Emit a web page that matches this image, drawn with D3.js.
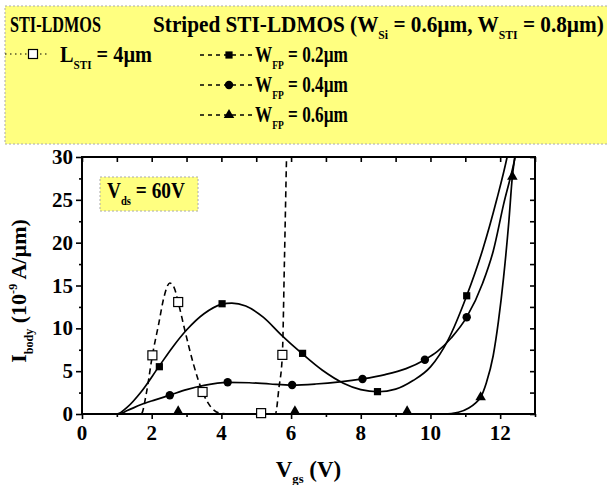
<!DOCTYPE html>
<html>
<head>
<meta charset="utf-8">
<script src="https://cdn.jsdelivr.net/npm/d3@7"></script>
<style>
  body { margin: 0; background: #fff; }
  text { font-family: "Liberation Serif", "Times New Roman", serif; font-weight: bold; white-space: pre; }
</style>
</head>
<body>
<svg id="chart" width="607" height="485"></svg>
<script>
// Axis ticks
const xTicks = [0, 2, 4, 6, 8, 10, 12];
const xMinorTicks = [1, 3, 5, 7, 9, 11, 13];
const yTicks = [0, 5, 10, 15, 20, 25, 30];
const yMinorTicks = [2.5, 7.5, 12.5, 17.5, 22.5, 27.5];

// STI-LDMOS, L_STI = 4um (dashed curve + open squares)
const lstiCurve = [[0, 0], [1.7, 0], [1.85, 2.5], [2.02, 6.85], [2.2, 10.5], [2.35, 13.6], [2.52, 15.3],
    [2.65, 14.7], [2.76, 13.07], [2.95, 9.8], [3.2, 5.8], [3.46, 2.57], [3.7, 0.8], [3.95, 0.1],
    [4.2, 0], [5.55, 0], [5.65, 3], [5.75, 6.9], [5.81, 18], [5.87, 30], [5.9, 35]];
const lstiPoints = [[2.02, 6.85], [2.76, 13.07], [3.46, 2.57], [5.14, 0.1], [5.75, 6.9]];

// Striped STI-LDMOS, W_FP = 0.2um
const fp02Curve = [[0, 0], [1.0, 0], [1.3, 0.8], [1.7, 2.6], [2.2, 5.5], [2.6, 7.8], [3.0, 9.8], [3.5, 11.7],
    [4.0, 12.8], [4.3, 12.95], [4.7, 12.6], [5.2, 11.3], [5.7, 9.3], [6.3, 7.1], [6.9, 5.1], [7.5, 3.6],
    [8.0, 2.85], [8.5, 2.6], [9.0, 2.9], [9.5, 3.9], [10.0, 5.5], [10.5, 8.6], [11.04, 13.8], [11.5, 19.2],
    [11.9, 25], [12.2, 30], [12.3, 32]];
const fp02Points = [[2.22, 5.52], [4.02, 12.87], [6.33, 7.08], [8.48, 2.61], [11.04, 13.8]];

// W_FP = 0.4um
const fp04Curve = [[0, 0], [1.05, 0], [1.3, 0.4], [1.7, 1.1], [2.1, 1.65], [2.52, 2.2], [3.0, 2.85], [3.5, 3.35],
    [4.18, 3.7], [4.8, 3.65], [5.4, 3.5], [6.03, 3.38], [6.7, 3.5], [7.4, 3.75], [8.05, 4.1], [8.7, 4.6],
    [9.3, 5.3], [9.84, 6.34], [10.2, 7.3], [10.6, 8.9], [11.04, 11.3], [11.5, 15.3], [11.8, 19], [12.1, 24.5],
    [12.43, 30], [12.5, 31.5]];
const fp04Points = [[2.52, 2.18], [4.18, 3.7], [6.03, 3.38], [8.05, 4.08], [9.84, 6.34], [11.04, 11.3]];

// W_FP = 0.6um
const fp06Curve = [[0, 0], [10.4, 0], [10.8, 0.2], [11.1, 0.7], [11.3, 1.3], [11.44, 1.95], [11.6, 3.6],
    [11.8, 6.8], [11.95, 10.8], [12.1, 16], [12.25, 22.5], [12.35, 27.7], [12.42, 30], [12.45, 31]];
const fp06Points = [[2.76, 0.3], [6.11, 0.3], [9.33, 0.3], [11.44, 1.95], [12.35, 27.7]];

const FONT = 24;
const plot = { left: 82, right: 535, top: 157, bottom: 414 };

const svg = d3.select('#chart');

// Write text made of plain / subscript / superscript parts
function richText(parent, parts, size) {
    const t = parent.append('text').attr('font-size', size);
    let shift = 0;
    parts.forEach(p => {
        const [str, kind] = typeof p === 'string' ? [p, null] : p;
        const target = kind === 'sub' ? size * 0.3 : kind === 'sup' ? -size * 0.42 : 0;
        t.append('tspan')
            .attr('dy', target - shift)
            .attr('font-size', kind ? size * 0.55 : size)
            .text(str);
        shift = target;
    });
    return t;
}

// Squeeze/stretch a text horizontally so it spans a given width
function fitText(t, x, y, width) {
    const w = t.node().getComputedTextLength();
    t.attr('transform', `translate(${x},${y}) scale(${width / w},1)`);
}

function drawMarker(g, kind, cx, cy) {
    if (kind === 'open') {
        g.append('rect').attr('x', cx - 4.5).attr('y', cy - 4.5).attr('width', 9).attr('height', 9)
            .attr('fill', '#fff').attr('stroke', '#000').attr('stroke-width', 1.2);
    } else if (kind === 'square') {
        g.append('rect').attr('x', cx - 3.6).attr('y', cy - 3.6).attr('width', 7.2).attr('height', 7.2)
            .attr('fill', '#000');
    } else if (kind === 'circle') {
        g.append('circle').attr('cx', cx).attr('cy', cy).attr('r', 4.2).attr('fill', '#000');
    } else {
        g.append('path').attr('d', d3.symbol(d3.symbolTriangle, 48)())
            .attr('transform', `translate(${cx},${cy})`).attr('fill', '#000');
    }
}

// ---- Legend ----
const legend = svg.append('g');
legend.append('rect')
    .attr('x', 5).attr('y', 6).attr('width', 640).attr('height', 138)
    .attr('fill', '#ffff80').attr('stroke', '#aaa').attr('stroke-dasharray', '2,2');

fitText(richText(legend, ['STI-LDMOS'], FONT), 10, 32, 91);
fitText(richText(legend, ['Striped STI-LDMOS (W', ['Si', 'sub'], ' = 0.6µm, W', ['STI', 'sub'], ' = 0.8µm)'], FONT), 153, 32, 451);

legend.append('line').attr('x1', 5).attr('x2', 48).attr('y1', 54).attr('y2', 54)
    .attr('stroke', '#000').attr('stroke-width', 1.2).attr('stroke-dasharray', '1.5,3.5');
drawMarker(legend, 'open', 33, 54);
fitText(richText(legend, ['L', ['STI', 'sub'], ' = 4µm'], FONT), 60, 61.5, 92);

const legendRows = [
    { kind: 'square', label: '0.2µm', y: 61.5 },
    { kind: 'circle', label: '0.4µm', y: 91.5 },
    { kind: 'triangle', label: '0.6µm', y: 121.5 }
];
legendRows.forEach(r => {
    const my = r.y - 6.5;
    legend.append('line').attr('x1', 200).attr('x2', 254).attr('y1', my).attr('y2', my)
        .attr('stroke', '#000').attr('stroke-width', 1.5).attr('stroke-dasharray', '4,4');
    drawMarker(legend, r.kind, 229, my);
    fitText(richText(legend, ['W', ['FP', 'sub'], ' = ' + r.label], FONT), 255, r.y, 93);
});

// ---- Scales ----
const x = d3.scaleLinear().domain([0, 13]).range([plot.left, plot.right]);
const y = d3.scaleLinear().domain([0, 30]).range([plot.bottom, plot.top]);
const pw = plot.right - plot.left;
const ph = plot.bottom - plot.top;

svg.append('defs').append('clipPath').attr('id', 'clip')
    .append('rect').attr('x', plot.left).attr('y', plot.top).attr('width', pw).attr('height', ph);

// ---- Axes ----
function tickAxis(axis, transform, size) {
    const g = svg.append('g').attr('transform', transform)
        .call(axis.tickSize(size).tickFormat(''));
    g.select('.domain').remove();
    g.selectAll('line').attr('stroke', '#000').attr('stroke-width', 1.6);
}
tickAxis(d3.axisBottom(x).tickValues(xTicks), `translate(0,${plot.bottom})`, 5);
tickAxis(d3.axisBottom(x).tickValues(xMinorTicks), `translate(0,${plot.bottom})`, 3);
tickAxis(d3.axisTop(x).tickValues(d3.range(0, 14)), `translate(0,${plot.top})`, -5);
tickAxis(d3.axisLeft(y).tickValues(yTicks), `translate(${plot.left},0)`, 6);
tickAxis(d3.axisLeft(y).tickValues(yMinorTicks), `translate(${plot.left},0)`, 3);
tickAxis(d3.axisRight(y).tickValues(yTicks.concat(yMinorTicks)), `translate(${plot.right},0)`, -5);

svg.append('rect')
    .attr('x', plot.left).attr('y', plot.top).attr('width', pw).attr('height', ph)
    .attr('fill', 'none').attr('stroke', '#000').attr('stroke-width', 2);

svg.append('g').selectAll('text').data(xTicks).join('text')
    .attr('x', d => x(d)).attr('y', 440).attr('font-size', 21)
    .attr('text-anchor', 'middle').text(d => d);
svg.append('g').selectAll('text').data(yTicks).join('text')
    .attr('x', 73).attr('y', d => y(d) + 7).attr('font-size', 21)
    .attr('text-anchor', 'end').text(d => d);

richText(svg, ['V', ['gs', 'sub'], ' (V)'], 23)
    .attr('text-anchor', 'middle').attr('transform', `translate(${(plot.left + plot.right) / 2},476.5)`);
richText(svg, ['I', ['body', 'sub'], ' (10', ['-9', 'sup'], ' A/µm)'], 22)
    .attr('text-anchor', 'middle').attr('transform', 'translate(26,291) rotate(-90)');

// ---- V_ds box ----
svg.append('rect').attr('x', 100).attr('y', 177).attr('width', 98).attr('height', 34)
    .attr('fill', '#ffff80').attr('stroke', '#aaa').attr('stroke-dasharray', '2,2');
fitText(richText(svg, ['V', ['ds', 'sub'], ' = 60V'], FONT), 107, 198, 78);

// ---- Curves ----
const line = d3.line()
    .x(d => x(d[0]))
    .y(d => y(d[1]))
    .curve(d3.curveMonotoneX);

const curves = svg.append('g').attr('clip-path', 'url(#clip)');
[fp02Curve, fp04Curve, fp06Curve].forEach(c => {
    curves.append('path').datum(c).attr('d', line)
        .attr('fill', 'none').attr('stroke', '#000').attr('stroke-width', 1.7);
});
curves.append('path').datum(lstiCurve).attr('d', line)
    .attr('fill', 'none').attr('stroke', '#000').attr('stroke-width', 1.6)
    .attr('stroke-dasharray', '6,4');

// ---- Markers ----
const markers = svg.append('g');
const series = [
    { kind: 'open', pts: lstiPoints },
    { kind: 'square', pts: fp02Points },
    { kind: 'circle', pts: fp04Points },
    { kind: 'triangle', pts: fp06Points }
];
series.forEach(s => s.pts.forEach(p => drawMarker(markers, s.kind, x(p[0]), y(p[1]))));
</script>
</body>
</html>
